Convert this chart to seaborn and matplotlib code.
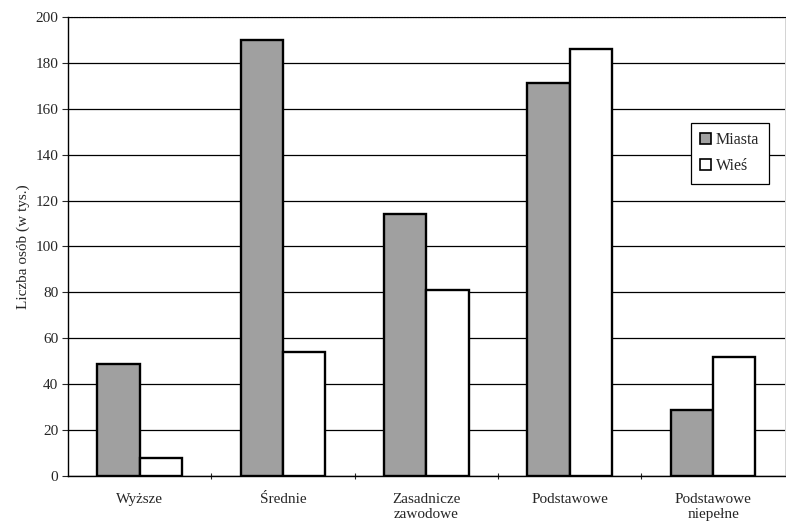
import pandas as pd
import matplotlib.pyplot as plt
import seaborn as sns
from matplotlib.patches import Patch

categories = ["Wyższe", "Średnie", "Zasadnicze\nzawodowe", "Podstawowe", "Podstawowe\nniepełne"]
miasta = [49, 190, 114, 171, 29]
wies = [8, 54, 81, 186, 52]
series = ["Miasta", "Wieś"]
yticks = list(range(0, 201, 20))


def main():
    df = pd.DataFrame({
        "kategoria": categories * 2,
        "seria": [series[0]] * len(categories) + [series[1]] * len(categories),
        "wartosc": miasta + wies,
    })

    sns.set_style("white")
    plt.rcParams["font.family"] = ["Liberation Serif", "DejaVu Serif"]

    fig = plt.figure(figsize=(7.86, 5.25), dpi=100)
    ax = fig.add_axes([0.0865, 0.093, 0.912, 0.875])

    colors = {"Miasta": "#a0a0a0", "Wieś": "#ffffff"}
    sns.barplot(data=df, x="kategoria", y="wartosc", hue="seria", palette=colors,
                width=0.59, edgecolor="black", linewidth=1.7, ax=ax, legend=False,
                zorder=3)

    ax.set_ylim(0, 200)
    ax.set_xlim(-0.5, len(categories) - 0.5)
    ax.set_yticks(yticks)
    ax.yaxis.grid(True, color="black", linewidth=0.9, zorder=0)
    ax.set_axisbelow(True)

    ax.set_xlabel("")
    ax.set_ylabel("Liczba osób (w tys.)", fontsize=11)
    ax.tick_params(axis="x", length=0, labelsize=11, pad=12)
    ax.tick_params(axis="y", length=4, width=0.8, labelsize=11, pad=3, direction="out", left=True)
    ax.set_xticks([i + 0.5 for i in range(len(categories) - 1)], minor=True)
    ax.tick_params(axis="x", which="minor", length=5, width=0.8, direction="inout", bottom=True)

    for side in ["left", "bottom"]:
        ax.spines[side].set_color("black")
        ax.spines[side].set_linewidth(1.0)
    ax.spines["top"].set_linestyle((0, (1, 1.5)))
    ax.spines["top"].set_linewidth(0.8)
    ax.spines["top"].set_color("black")
    ax.spines["right"].set_color("#cccccc")
    ax.spines["right"].set_linewidth(0.6)

    handles = [Patch(facecolor=colors[s], edgecolor="black", linewidth=1.2, label=s) for s in series]
    leg = ax.legend(handles=handles, loc="upper right", bbox_to_anchor=(0.978, 0.769),
                    borderaxespad=0, frameon=True, fancybox=False, framealpha=1,
                    edgecolor="black", fontsize=11.5, handlelength=0.7, handleheight=0.7,
                    handletextpad=0.3, borderpad=0.6, labelspacing=0.6)
    leg.get_frame().set_linewidth(0.9)

    fig.savefig("out.png", dpi=100)
    plt.close(fig)


if __name__ == "__main__":
    main()
